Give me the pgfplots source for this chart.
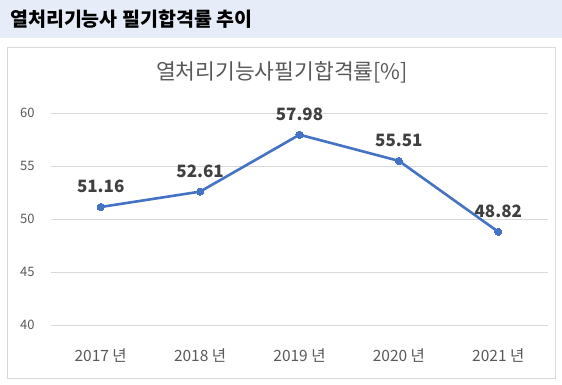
\documentclass[border=0pt]{standalone}
\usepackage{fontspec}
\setmainfont{Noto Sans CJK KR}
\usepackage{pgfplots}
\pgfplotsset{compat=1.18}
\definecolor{hdr}{HTML}{E6ECF8}
\definecolor{frm}{HTML}{D9D9D9}
\definecolor{txt}{HTML}{595959}
\definecolor{lbl}{HTML}{404040}
\definecolor{ln}{HTML}{4472C4}
\begin{document}
\begin{tikzpicture}[x=1pt,y=1pt]
\useasboundingbox (0,0) rectangle (562,385);
\fill[white] (0,0) rectangle (562,385);
\fill[hdr] (0,347) rectangle (562,385);
\node[anchor=west, inner sep=0pt, font=\fontsize{19.5}{21}\selectfont\bfseries, text=black] at (10,366) {열처리기능사 필기합격률 추이};
\draw[frm, line width=1pt] (7.5,6) rectangle (555.5,337.5);
\node[font=\fontsize{21.5}{23}\selectfont, text=txt, inner sep=0pt] at (282,313) {열처리기능사필기합격률[\%]};
\begin{axis}[
  at={(51pt,59.7pt)}, anchor=south west,
  scale only axis, width=497pt, height=212pt,
  xmin=-0.5, xmax=4.5, ymin=40, ymax=60,
  xtick={0,1,2,3,4},
  xticklabels={2017 년,2018 년,2019 년,2020 년,2021 년},
  ytick={40,45,50,55,60},
  axis line style={draw=none},
  major tick length=0pt,
  ymajorgrids, grid style={frm, line width=0.8pt},
  /pgf/number format/assume math mode=true,
  yticklabel style={font=\fontsize{13}{15}\selectfont, text=txt, anchor=east, xshift=-13pt},
  xticklabel style={font=\fontsize{15.5}{17}\selectfont, text=txt, anchor=center, yshift=-30pt},
  clip=false,
  nodes near coords,
  point meta=explicit symbolic,
  every node near coord/.append style={font=\fontsize{17}{19}\selectfont\bfseries, text=lbl, anchor=center, yshift=20.5pt},
]
\addplot[ln, line width=2.6pt, mark=*, mark size=3.6pt, mark options={fill=ln, draw=ln, line width=0pt}] table[meta=label] {
x y label
0 51.16 51.16
1 52.61 52.61
2 57.98 57.98
3 55.51 55.51
4 48.82 48.82
};
\end{axis}
\end{tikzpicture}
\end{document}
